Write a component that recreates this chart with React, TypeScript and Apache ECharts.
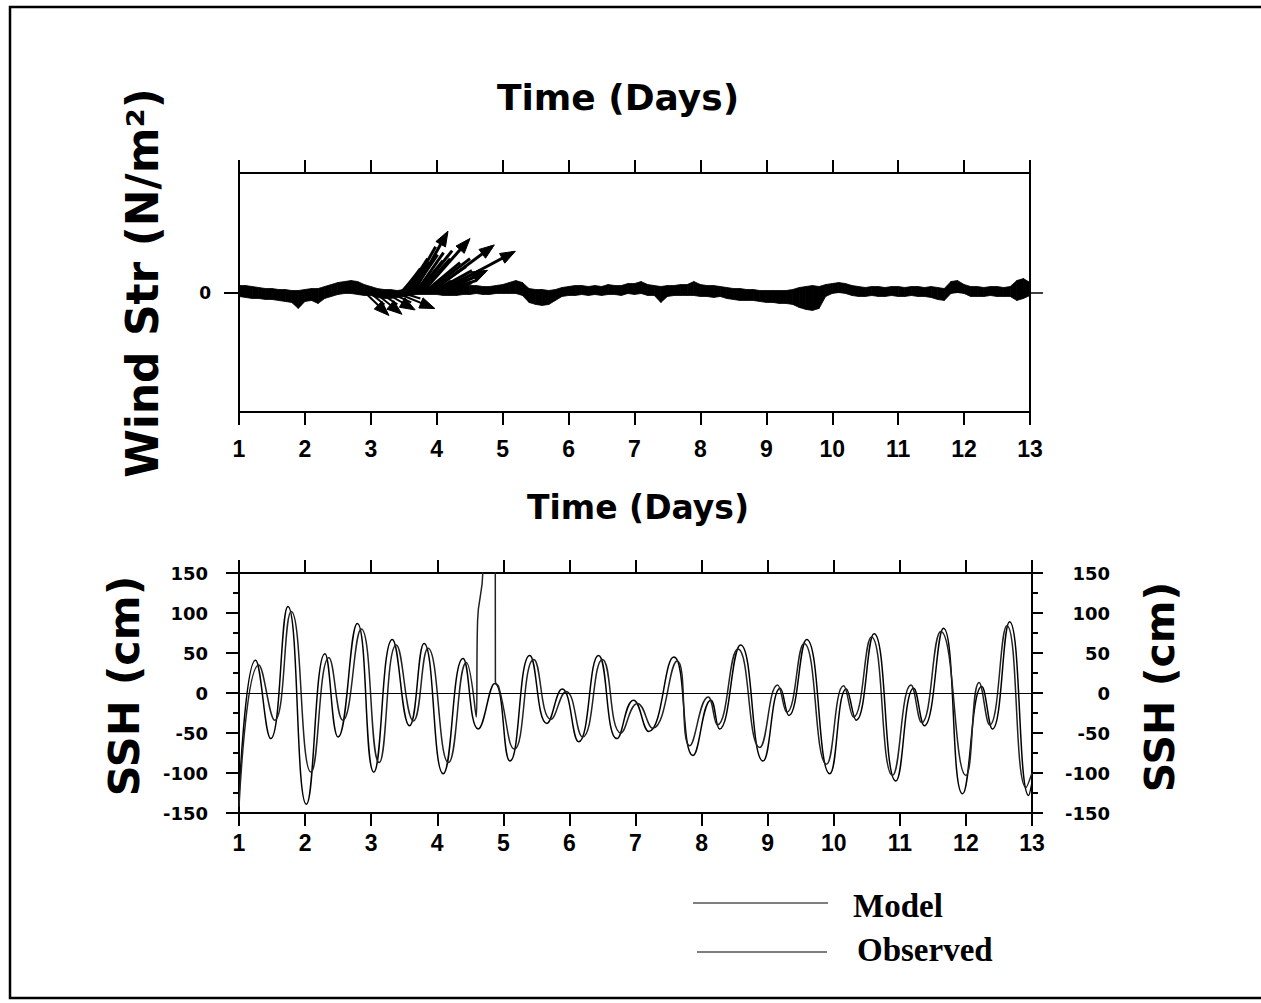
import React, { useEffect, useRef } from "react";
import * as echarts from "echarts";

// ---------- Wind stress panel (stick plot) ----------
// band envelope of the dense small sticks, sampled every 0.1 day from day 1.0
const windStart = 1.0;
const windStep = 0.1;
const windUpper = [
  7, 7, 6, 5, 4, 4, 3, 3, 2, 2,
  3, 4, 4, 6, 8, 10, 11, 12, 11, 8,
  6, 4, 3, 3, 2, 3, 4, 5, 5, 5,
  6, 8, 12, 10, 8, 7, 7, 6, 6, 7,
  8, 10, 12, 10, 4, 3, 3, 2, 3, 5,
  6, 7, 7, 6, 7, 6, 8, 7, 7, 9,
  9, 11, 8, 7, 6, 7, 7, 8, 8, 11,
  8, 7, 7, 6, 5, 4, 4, 3, 3, 2,
  2, 2, 2, 2, 3, 5, 6, 7, 6, 8,
  9, 10, 9, 7, 6, 5, 6, 6, 5, 6,
  6, 5, 6, 6, 5, 6, 5, 4, 11, 12,
  8, 6, 6, 5, 6, 6, 5, 6, 12, 14,
  10,
];
const windLower = [
  -4, -5, -6, -6, -7, -7, -8, -9, -10, -16,
  -9, -8, -11, -6, -4, -2, -1, -1, -2, -3,
  -3, -5, -6, -6, -5, -4, -3, -2, -2, -2,
  -2, -3, -3, -3, -2, -2, -1, -2, -2, -1,
  -1, -1, -1, -3, -10, -12, -13, -12, -8, -4,
  -3, -3, -2, -3, -2, -3, -2, -2, -3, -1,
  -2, -1, -3, -3, -10, -4, -3, -3, -3, -3,
  -4, -4, -5, -4, -6, -7, -8, -8, -8, -9,
  -10, -10, -11, -11, -12, -15, -17, -18, -16, -4,
  -1, 0, -1, -3, -4, -4, -3, -4, -4, -3,
  -4, -4, -3, -4, -4, -5, -7, -8, -1, 0,
  -1, -4, -4, -4, -3, -4, -4, -4, -8, -6,
  -3,
];
// storm sticks: [day, u (east), v (north), arrowhead]
const windVectors = [
  [2.91, 22, -21, 1], [2.98, 15, -12, 0], [3.06, 25, -20, 1], [3.13, 18, -12, 0],
  [3.21, 28, -16, 1], [3.28, 22, -10, 0], [3.37, 37, -15, 1], [3.45, 20, -6, 0],
  [3.46, 14, 16, 0], [3.48, 18, 24, 0], [3.50, 16, 20, 0], [3.53, 22, 34, 0],
  [3.56, 22, 30, 0], [3.59, 26, 46, 0], [3.62, 26, 38, 0], [3.65, 33, 59, 1],
  [3.68, 28, 40, 0], [3.70, 26, 32, 0], [3.72, 34, 42, 0], [3.75, 30, 34, 0],
  [3.78, 46, 52, 1], [3.81, 36, 30, 0], [3.84, 44, 34, 0], [3.87, 38, 26, 0],
  [3.90, 62, 46, 1], [3.93, 40, 22, 0], [3.96, 46, 22, 0], [3.99, 40, 16, 0],
  [4.02, 75, 40, 1], [4.05, 36, 12, 0], [4.08, 43, 21, 1], [4.11, 28, 10, 0],
  [4.14, 24, 10, 0], [4.17, 16, 6, 0], [4.20, 12, 4, 0],
];

// ---------- Sea surface height panel ----------
const modelSSH = [
  [1.00, -130], [1.25, 41], [1.48, -57], [1.74, 108], [2.02, -139], [2.30, 49],
  [2.50, -55], [2.79, 87], [3.04, -99], [3.32, 67], [3.58, -41], [3.80, 62],
  [4.09, -101], [4.39, 43], [4.62, -45], [4.87, 12], [5.10, -85], [5.40, 47],
  [5.66, -38], [5.89, 5], [6.14, -61], [6.44, 47], [6.72, -57], [6.97, -9],
  [7.20, -48], [7.58, 45], [7.87, -78], [8.14, -9], [8.27, -45], [8.59, 60],
  [8.93, -85], [9.19, 6], [9.32, -28], [9.59, 67], [9.94, -101], [10.19, 5],
  [10.34, -34], [10.61, 74], [10.94, -110], [11.21, 6], [11.37, -41], [11.66, 81],
  [11.95, -126], [12.24, 8], [12.40, -45], [12.66, 89], [12.95, -128], [13.00, -112],
];
const observedSSH = [
  [1.00, -142], [1.30, 35], [1.54, -34], [1.79, 102], [2.09, -99], [2.36, 44],
  [2.57, -34], [2.85, 80], [3.12, -87], [3.38, 60], [3.64, -35], [3.86, 56],
  [4.17, -87], [4.44, 38], [4.59, -30], [4.61, 90], [4.69, 152], [4.71, 400],
  [4.875, 400], [4.88, 14], [4.93, 8], [5.17, -70], [5.46, 42], [5.72, -33],
  [5.95, 2], [6.20, -55], [6.50, 42], [6.78, -50], [7.03, -13], [7.26, -44],
  [7.63, 40], [7.82, -66], [8.10, -5], [8.24, -40], [8.55, 55], [8.88, -68],
  [9.15, 10], [9.29, -24], [9.55, 62], [9.89, -89], [10.15, 9], [10.30, -30],
  [10.57, 70], [10.89, -103], [11.17, 10], [11.33, -37], [11.62, 77], [12.00, -103],
  [12.20, 13], [12.36, -40], [12.62, 84], [12.91, -118], [13.00, -100],
];

const dayMin = 1;
const dayMax = 13;
const windMin = -120;
const windMax = 120;
const sshMin = -150;
const sshMax = 150;
const sshStep = 50;

const TICK_FONT = "'Liberation Sans', Arial, sans-serif";
const LABEL_FONT = "'DejaVu Sans', sans-serif";

export default function App() {
  const ref = useRef<HTMLDivElement>(null);

  useEffect(() => {
    const chart = echarts.init(ref.current as HTMLDivElement, null, { renderer: "svg" });

    const bandData = windUpper.map((u, i) => [windStart + i * windStep, windLower[i], u]);

    const axisLine = { show: true, onZero: false, lineStyle: { color: "#000", width: 2 } };
    const tickStyle = { color: "#000", width: 2 };

    const option: any = {
      animation: false,
      backgroundColor: "#fff",
      grid: [
        { left: 239, top: 173, width: 791, height: 239 },
        { left: 239, top: 573, width: 793, height: 240 },
      ],
      xAxis: [
        {
          gridIndex: 0, type: "value", position: "bottom", min: dayMin, max: dayMax, interval: 1,
          axisLine, axisTick: { show: true, length: 13, lineStyle: tickStyle },
          axisLabel: { margin: 25, color: "#000", fontFamily: TICK_FONT, fontWeight: "bold", fontSize: 23 },
          splitLine: { show: false },
        },
        {
          gridIndex: 0, type: "value", position: "top", min: dayMin, max: dayMax, interval: 1,
          axisLine, axisTick: { show: true, length: 13, lineStyle: tickStyle },
          axisLabel: { show: false }, splitLine: { show: false },
        },
        {
          gridIndex: 1, type: "value", position: "bottom", min: dayMin, max: dayMax, interval: 1,
          axisLine, axisTick: { show: true, length: 13, lineStyle: tickStyle },
          axisLabel: { margin: 18, color: "#000", fontFamily: TICK_FONT, fontWeight: "bold", fontSize: 23 },
          splitLine: { show: false },
        },
        {
          gridIndex: 1, type: "value", position: "top", min: dayMin, max: dayMax, interval: 1,
          axisLine, axisTick: { show: true, length: 13, lineStyle: tickStyle },
          axisLabel: { show: false }, splitLine: { show: false },
        },
      ],
      yAxis: [
        {
          gridIndex: 0, type: "value", position: "left", min: windMin, max: windMax,
          axisLine,
          axisTick: { show: true, length: 15, lineStyle: tickStyle, customValues: [0] },
          axisLabel: { customValues: [0], margin: 28, color: "#000", fontFamily: LABEL_FONT, fontWeight: "bold", fontSize: 17 },
          splitLine: { show: false },
        },
        {
          gridIndex: 0, type: "value", position: "right", min: windMin, max: windMax,
          axisLine,
          axisTick: { show: true, length: 13, lineStyle: { color: "#000", width: 1.5 }, customValues: [0] },
          axisLabel: { show: false },
          splitLine: { show: false },
        },
        {
          gridIndex: 1, type: "value", position: "left", min: sshMin, max: sshMax, interval: sshStep,
          axisLine,
          axisTick: { show: true, length: 13, lineStyle: tickStyle },
          minorTick: { show: true, splitNumber: 2, length: 6, lineStyle: tickStyle },
          axisLabel: { margin: 31, color: "#000", fontFamily: LABEL_FONT, fontWeight: "bold", fontSize: 18 },
          splitLine: { show: false }, minorSplitLine: { show: false },
        },
        {
          gridIndex: 1, type: "value", position: "right", min: sshMin, max: sshMax, interval: sshStep,
          axisLine,
          axisTick: { show: true, length: 11, lineStyle: tickStyle },
          minorTick: { show: true, splitNumber: 2, length: 6, lineStyle: tickStyle },
          axisLabel: { margin: 78, align: "right", color: "#000", fontFamily: LABEL_FONT, fontWeight: "bold", fontSize: 18 },
          splitLine: { show: false }, minorSplitLine: { show: false },
        },
      ],
      series: [
        {
          name: "windBand",
          type: "custom",
          xAxisIndex: 0,
          yAxisIndex: 0,
          silent: true,
          data: bandData,
          encode: { x: 0, y: [1, 2] },
          renderItem: (params: any, api: any) => {
            const i = params.dataIndex;
            if (i >= bandData.length - 1) return null;
            const a = bandData[i];
            const b = bandData[i + 1];
            const p1 = api.coord([a[0], a[2]]);
            const p2 = api.coord([b[0], b[2]]);
            const p3 = api.coord([b[0], b[1]]);
            const p4 = api.coord([a[0], a[1]]);
            return {
              type: "polygon",
              shape: { points: [p1, p2, p3, p4] },
              style: { fill: "#000", stroke: "#000", lineWidth: 0.8 },
            };
          },
        },
        {
          name: "windSticks",
          type: "custom",
          xAxisIndex: 0,
          yAxisIndex: 0,
          silent: true,
          data: windVectors,
          encode: { x: 0, y: 2 },
          renderItem: (params: any, api: any) => {
            const t = api.value(0);
            const u = api.value(1);
            const v = api.value(2);
            const head = api.value(3);
            const base = api.coord([t, 0]);
            const unit = api.size([0, 1])[1];
            const tip = [base[0] + u * unit, base[1] - v * unit];
            const children: any[] = [
              {
                type: "line",
                shape: { x1: base[0], y1: base[1], x2: tip[0], y2: tip[1] },
                style: { stroke: "#000", lineWidth: v > 0 ? 3 : 2 },
              },
            ];
            if (head) {
              const ang = Math.atan2(tip[1] - base[1], tip[0] - base[0]);
              const L = 12;
              const W = 5.5;
              const bx = tip[0] - L * Math.cos(ang);
              const by = tip[1] - L * Math.sin(ang);
              const px = -Math.sin(ang) * W;
              const py = Math.cos(ang) * W;
              children.push({
                type: "polygon",
                shape: { points: [[tip[0] + Math.cos(ang) * 3, tip[1] + Math.sin(ang) * 3], [bx + px, by + py], [bx - px, by - py]] },
                style: { fill: "#000", stroke: "#000", lineWidth: 1 },
              });
            }
            return { type: "group", children };
          },
        },
        {
          name: "windZero",
          type: "line",
          xAxisIndex: 0,
          yAxisIndex: 0,
          silent: true,
          symbol: "none",
          data: [[dayMin, 0], [dayMax, 0]],
          lineStyle: { color: "#000", width: 1.2 },
        },
        {
          name: "Model",
          type: "line",
          xAxisIndex: 2,
          yAxisIndex: 2,
          silent: true,
          symbol: "none",
          smooth: 0.5,
          data: modelSSH,
          lineStyle: { color: "#000", width: 1.5 },
          markLine: {
            silent: true,
            symbol: ["none", "none"],
            label: { show: false },
            lineStyle: { color: "#000", width: 1.2, type: "solid" },
            data: [{ yAxis: 0 }],
          },
        },
        {
          name: "Observed",
          type: "line",
          xAxisIndex: 2,
          yAxisIndex: 2,
          silent: true,
          symbol: "none",
          smooth: 0.5,
          data: observedSSH,
          lineStyle: { color: "#222", width: 1.5 },
        },
      ],
      graphic: [
        {
          type: "rect",
          shape: { x: 10, y: 7, width: 1270, height: 991 },
          style: { fill: "none", stroke: "#000", lineWidth: 2.5 },
          silent: true,
        },
        {
          type: "text", x: 618, y: 97,
          style: { text: "Time (Days)", fontFamily: LABEL_FONT, fontWeight: "bold", fontSize: 36, fill: "#000", textAlign: "center", textVerticalAlign: "middle" },
        },
        {
          type: "text", x: 638, y: 507,
          style: { text: "Time (Days)", fontFamily: LABEL_FONT, fontWeight: "bold", fontSize: 33, fill: "#000", textAlign: "center", textVerticalAlign: "middle" },
        },
        {
          type: "text", x: 142, y: 283, rotation: Math.PI / 2,
          style: { text: "Wind Str (N/m²)", fontFamily: LABEL_FONT, fontWeight: "bold", fontSize: 44, fill: "#000", textAlign: "center", textVerticalAlign: "middle" },
        },
        {
          type: "text", x: 124, y: 686, rotation: Math.PI / 2,
          style: { text: "SSH (cm)", fontFamily: LABEL_FONT, fontWeight: "bold", fontSize: 43, fill: "#000", textAlign: "center", textVerticalAlign: "middle" },
        },
        {
          type: "text", x: 1160, y: 687, rotation: Math.PI / 2,
          style: { text: "SSH (cm)", fontFamily: LABEL_FONT, fontWeight: "bold", fontSize: 41, fill: "#000", textAlign: "center", textVerticalAlign: "middle" },
        },
        {
          type: "line",
          shape: { x1: 693, y1: 903, x2: 828, y2: 903 },
          style: { stroke: "#555", lineWidth: 1.6 },
        },
        {
          type: "line",
          shape: { x1: 697, y1: 952, x2: 827, y2: 952 },
          style: { stroke: "#555", lineWidth: 1.6 },
        },
        {
          type: "text", x: 853, y: 906,
          style: { text: "Model", fontFamily: "'Liberation Serif', serif", fontWeight: "bold", fontSize: 33, fill: "#000", textAlign: "left", textVerticalAlign: "middle" },
        },
        {
          type: "text", x: 857, y: 950,
          style: { text: "Observed", fontFamily: "'Liberation Serif', serif", fontWeight: "bold", fontSize: 33, fill: "#000", textAlign: "left", textVerticalAlign: "middle" },
        },
      ],
    };

    chart.setOption(option);
    return () => chart.dispose();
  }, []);

  return (
    <div
      ref={ref}
      style={{ position: "absolute", left: 0, top: 0, width: 1261, height: 1003, background: "#fff" }}
    />
  );
}
